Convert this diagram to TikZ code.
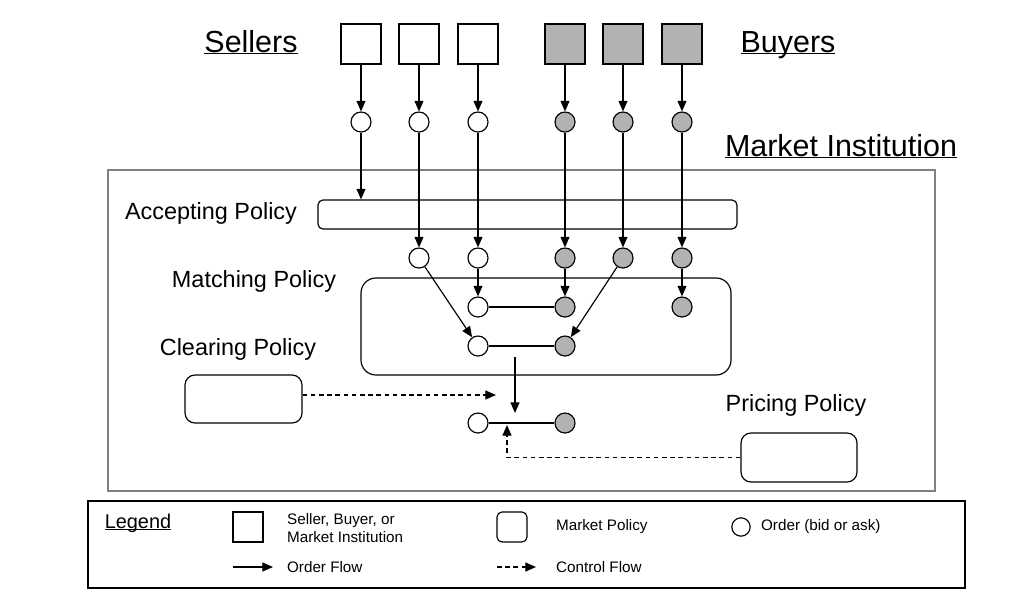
\documentclass[tikz,border=0pt]{standalone}
\usepackage{fontspec}
\setmainfont{Liberation Sans}
\usetikzlibrary{arrows.meta,calc}

\newcommand\ulbl[1]{\underline{\smash{#1}}}

\tikzset{
  agent/.style={draw, line width=1pt, minimum size=1.2cm, inner sep=0pt, fill=white},
  buyer/.style={agent, fill=black!30},
  order/.style={circle, draw, line width=1pt, minimum size=0.6cm, inner sep=0pt, fill=white},
  bid/.style={order, fill=black!30},
  policy/.style={draw, line width=1pt, rounded corners=0.3cm, inner sep=0pt},
  flow/.style={-{Triangle[length=0.32cm,width=0.27cm]}, line width=1pt},
  ctrl/.style={flow, dash pattern=on 4pt off 3pt},
  pair/.style={line width=1pt},
  title/.style={font=\fontsize{26}{30}\selectfont, anchor=base},
  label/.style={font=\fontsize{20}{24}\selectfont},
  small/.style={font=\fontsize{13}{16}\selectfont, align=left, anchor=west}
}

\begin{document}
\begin{tikzpicture}[x=0.03cm, y=-0.03cm]
		%%%%% START %%%%%
		\useasboundingbox (0, 0) rectangle (1024, 603);
		
		% market institution and legend frames
		\draw[line width=1.3pt, color=black!50] (108, 170) rectangle (935, 491);
		\draw[line width=1.1pt] (88, 501) rectangle (965, 588);
		
		% titles
		\node[title] (sellers) at (251, 52) {\ulbl{Sellers}};
		\node[title] (buyers) at (788, 52) {\ulbl{Buyers}};
		\node[title] (mi) at (841, 156) {\ulbl{Market Institution}};
		
		% traders
		\node[agent] (sA) at (361, 44) {};
		\node[agent] (sB) at (419, 44) {};
		\node[agent] (sC) at (478, 44) {};
		\node[buyer] (bD) at (565, 44) {};
		\node[buyer] (bE) at (623, 44) {};
		\node[buyer] (bF) at (682, 44) {};
		
		% submitted orders
		\node[order] (oA1) at (361, 122) {};
		\node[order] (oB1) at (419, 122) {};
		\node[order] (oC1) at (478, 122) {};
		\node[bid] (oD1) at (565, 122) {};
		\node[bid] (oE1) at (623, 122) {};
		\node[bid] (oF1) at (682, 122) {};
		
		\draw[flow] (sA) -- (oA1);
		\draw[flow] (sB) -- (oB1);
		\draw[flow] (sC) -- (oC1);
		\draw[flow] (bD) -- (oD1);
		\draw[flow] (bE) -- (oE1);
		\draw[flow] (bF) -- (oF1);
		
		% accepting policy
		\node[label] (acclbl) at (211, 213) {Accepting Policy};
		\node[policy, rounded corners=0.15cm, minimum width=12.57cm, minimum height=0.87cm] (accept) at (527.5, 214.5) {};
		\draw[flow] (oA1) -- (oA1 |- accept.north);
		
		% accepted orders
		\node[order] (oB2) at (419, 258) {};
		\node[order] (oC2) at (478, 258) {};
		\node[bid] (oD2) at (565, 258) {};
		\node[bid] (oE2) at (623, 258) {};
		\node[bid] (oF2) at (682, 258) {};
		
		\draw[flow] (oB1) -- (oB2);
		\draw[flow] (oC1) -- (oC2);
		\draw[flow] (oD1) -- (oD2);
		\draw[flow] (oE1) -- (oE2);
		\draw[flow] (oF1) -- (oF2);
		
		% matching policy
		\node[label] (matlbl) at (254, 281) {Matching Policy};
		\node[policy, rounded corners=0.45cm, minimum width=11.1cm, minimum height=2.91cm] (match) at (546, 326.5) {};
		
		\node[order] (oC3) at (478, 307) {};
		\node[bid] (oD3) at (565, 307) {};
		\node[bid] (oF3) at (682, 307) {};
		\draw[pair] (oC3) -- (oD3);
		
		\node[order] (oB4) at (478, 346) {};
		\node[bid] (oE4) at (565, 346) {};
		\draw[pair] (oB4) -- (oE4);
		
		\draw[flow] (oC2) -- (oC3);
		\draw[flow] (oD2) -- (oD3);
		\draw[flow] (oF2) -- (oF3);
		\draw[flow] (oB2) -- (oB4);
		\draw[flow] (oE2) -- (oE4);
		
		% clearing policy
		\node[label] (clrlbl) at (238, 349) {Clearing Policy};
		\node[policy, minimum width=3.51cm, minimum height=1.44cm] (clear) at (243.5, 399) {};
		
		\node[order] (oB5) at (478, 423) {};
		\node[bid] (oE5) at (565, 423) {};
		\draw[pair] (oB5) -- (oE5);
		
		\coordinate (clrfrom) at (515, 357);
		\coordinate (clrto) at (515, 413);
		\coordinate (clrtip) at (496, 395);
		\draw[flow] (clrfrom) -- (clrto);
		\draw[ctrl] (clear.east |- clrtip) -- (clrtip);
		
		% pricing policy
		\node[label] (prclbl) at (796, 405) {Pricing Policy};
		\node[policy, minimum width=3.48cm, minimum height=1.47cm] (price) at (799, 457.5) {};
		\coordinate (prctip) at (507, 425);
		\draw[ctrl] (price.west) -| (prctip);
		
		% legend
		\node[font=\fontsize{17}{20}\selectfont, anchor=base] (leg) at (138, 528) {\ulbl{Legend}};
		\node[draw, line width=1pt, minimum width=0.9cm, minimum height=0.9cm] (legagent) at (248, 527) {};
		\node[small] (legagenttxt) at (283, 528) {Seller, Buyer, or\\Market Institution};
		\node[draw, line width=1pt, rounded corners=0.15cm, minimum width=0.9cm, minimum height=0.9cm] (legpolicy) at (512, 527) {};
		\node[small] (legpolicytxt) at (552, 527) {Market Policy};
		\node[order, minimum size=0.55cm] (legorder) at (741, 527) {};
		\node[small] (legordertxt) at (757, 527) {Order (bid or ask)};
		
		\coordinate (legflowA) at (233, 567);
		\coordinate (legflowB) at (273, 567);
		\draw[flow] (legflowA) -- (legflowB);
		\node[small] (legflowtxt) at (283, 567) {Order Flow};
		\coordinate (legctrlA) at (497, 567);
		\coordinate (legctrlB) at (536, 567);
		\draw[ctrl] (legctrlA) -- (legctrlB);
		\node[small] (legctrltxt) at (552, 567) {Control Flow};
		
		%%%%% END %%%%%
\end{tikzpicture}
\end{document}
